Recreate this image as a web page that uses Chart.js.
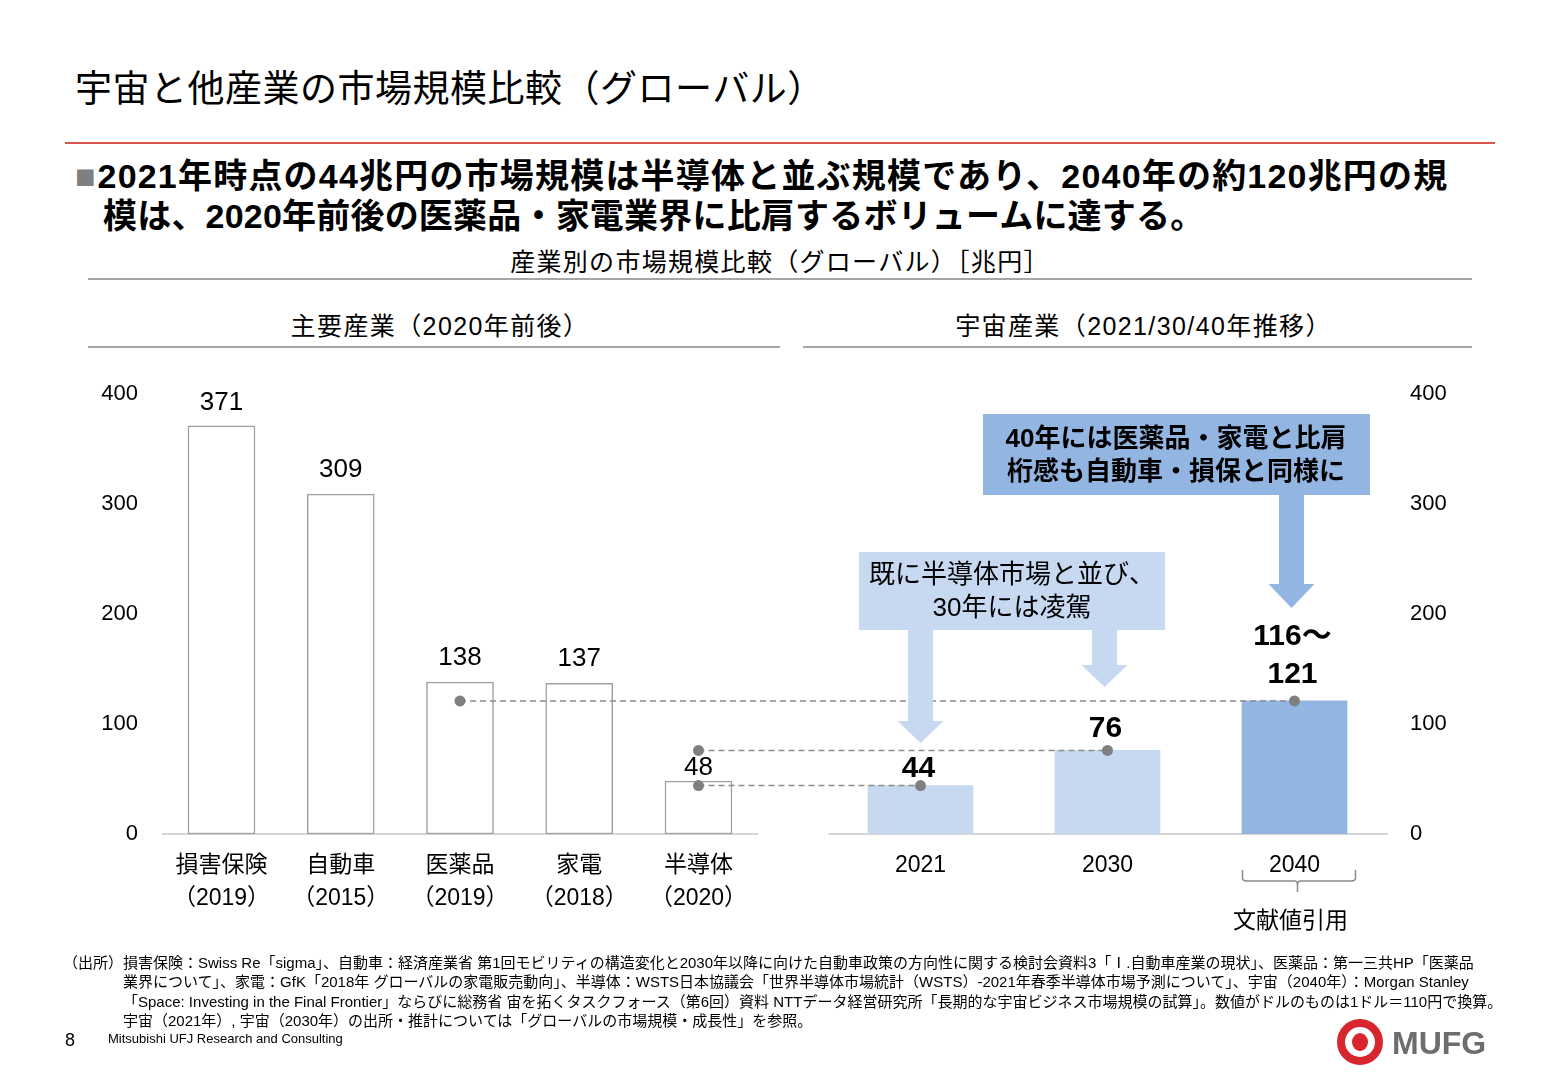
<!DOCTYPE html>
<html lang="ja"><head><meta charset="utf-8">
<script src="https://cdn.jsdelivr.net/npm/chart.js@4.4.0/dist/chart.umd.min.js"></script>
<style>
html,body{margin:0;padding:0;background:#fff;}
body{width:1560px;height:1080px;position:relative;overflow:hidden;font-family:"Liberation Sans","Noto Sans CJK JP",sans-serif;color:#000;}
#wrap{position:absolute;left:0;top:0;width:1560px;height:1080px;}
.t{position:absolute;white-space:nowrap;}
.rule{position:absolute;height:2px;background:#a6a6a6;}
</style></head>
<body>
<div class="t" style="left:75px;top:69px;font-size:37px;line-height:42px;letter-spacing:0.5px;">宇宙と他産業の市場規模比較（グローバル）</div>
<div style="position:absolute;left:65px;top:142px;width:1430px;height:2px;background:#d9534f;"></div>
<div class="t" style="left:75px;top:155px;font-size:34px;line-height:42px;font-weight:bold;letter-spacing:1.2px;"><span style="color:#7f7f7f;font-weight:normal;letter-spacing:0;margin-right:2px">■</span>2021年時点の44兆円の市場規模は半導体と並ぶ規模であり、2040年の約120兆円の規</div>
<div class="t" style="left:103px;top:195px;font-size:34px;line-height:42px;font-weight:bold;letter-spacing:0.2px;">模は、2020年前後の医薬品・家電業界に比肩するボリュームに達する。</div>
<div class="t" style="left:88px;width:1384px;top:247px;font-size:25px;line-height:30px;text-align:center;letter-spacing:1.3px;">産業別の市場規模比較（グローバル）［兆円］</div>
<div class="rule" style="left:88px;top:278px;width:1384px;"></div>
<div class="t" style="left:94px;width:692px;top:311px;font-size:25px;line-height:30px;text-align:center;letter-spacing:1.4px;">主要産業（2020年前後）</div>
<div class="t" style="left:809px;width:669px;top:311px;font-size:25px;line-height:30px;text-align:center;letter-spacing:1.4px;">宇宙産業（2021/30/40年推移）</div>
<div class="rule" style="left:88px;top:346px;width:692px;"></div>
<div class="rule" style="left:803px;top:346px;width:669px;"></div>
<div id="wrap"><canvas id="c" width="1560" height="1080"></canvas></div>
<div class="t" style="left:63px;top:953px;font-size:15px;line-height:19.3px;">（出所）</div>
<div class="t" style="left:123px;top:953px;font-size:15px;line-height:19.3px;">損害保険：Swiss Re「sigma」、自動車：経済産業省 第1回モビリティの構造変化と2030年以降に向けた自動車政策の方向性に関する検討会資料3「Ⅰ.自動車産業の現状」、医薬品：第一三共HP「医薬品<br>業界について」、家電：GfK「2018年 グローバルの家電販売動向」、半導体：WSTS日本協議会「世界半導体市場統計（WSTS）-2021年春季半導体市場予測について」、宇宙（2040年）：Morgan Stanley<br>「Space: Investing in the Final Frontier」ならびに総務省 宙を拓くタスクフォース（第6回）資料 NTTデータ経営研究所「長期的な宇宙ビジネス市場規模の試算」。数値がドルのものは1ドル＝110円で換算。<br>宇宙（2021年）, 宇宙（2030年）の出所・推計については「グローバルの市場規模・成長性」を参照。</div>
<div class="t" style="left:65px;top:1029px;font-size:18px;line-height:22px;">8</div>
<div class="t" style="left:108px;top:1031px;font-size:13px;line-height:16px;">Mitsubishi UFJ Research and Consulting</div>
<svg style="position:absolute;left:1330px;top:1015px;" width="170" height="56">
  <circle cx="30" cy="27" r="19" fill="none" stroke="#d7262e" stroke-width="8"/>
  <ellipse cx="30" cy="27" rx="8" ry="9" fill="#d7262e"/>
  <text x="62" y="39" font-family="Liberation Sans, sans-serif" font-weight="bold" font-size="32" fill="#6d6d6d">MUFG</text>
</svg>
<script>
// ---- data ----
const industryNames = ['損害保険', '自動車', '医薬品', '家電', '半導体'];
const industryYears = ['（2019）', '（2015）', '（2019）', '（2018）', '（2020）'];
const industryValues = [371, 309, 138, 137, 48];
const spaceYears = ['2021', '2030', '2040'];
const spaceValues = [44, 76, 121];
const spaceLabels = [['44'], ['76'], ['116～', '121']];
const yTickValues = [0, 100, 200, 300, 400];
// connectors: industry index -> space index (level = space value)
const connectorFrom = [2, 4, 4];
const connectorTo = [2, 1, 0];
const calloutA = ['既に半導体市場と並び、', '30年には凌駕'];
const calloutB = ['40年には医薬品・家電と比肩', '桁感も自動車・損保と同様に'];
const footnoteBracket = '文献値引用';

// ---- layout (slot positions on a linear x scale) ----
const X_MIN = -0.5157, X_MAX = 9.799;
const RIGHT_START = 5.862, RIGHT_STEP = 1.568;
const LEFT_BASE_END = 4.5, RIGHT_BASE_START = 5.09;
const leftPos = i => i;
const rightPos = j => RIGHT_START + j * RIGHT_STEP;
const leftLabelOffset = [23, 24, 24, 24, 13];
const rightLabelOffset = [17, 22, 26];
const spaceColors = ['#c6d9f1', '#c6d9f1', '#93b5e1'];

const FONT = '"Liberation Sans","Noto Sans CJK JP",sans-serif';
Chart.defaults.font.family = FONT;
Chart.defaults.color = '#000';

const tickPositions = industryNames.map((_, i) => leftPos(i)).concat(spaceYears.map((_, j) => rightPos(j)));
const tickLabels = industryNames.map((n, i) => [n, industryYears[i]]).concat(spaceYears);

const lineSets = connectorFrom.map((f, k) => ({
  type: 'line',
  data: [{x: leftPos(f), y: spaceValues[connectorTo[k]]}, {x: rightPos(connectorTo[k]), y: spaceValues[connectorTo[k]]}],
  borderColor: '#8c8c8c', borderWidth: 1.5, borderDash: [6, 4],
  pointRadius: 5.5, pointBackgroundColor: '#7f7f7f', pointBorderWidth: 0,
  fill: false, order: 0, xAxisID: 'x', yAxisID: 'y'
}));

function drawArrow(ctx, cx, top, headTop, tip, color) {
  const sw = 25, hw = 46;
  ctx.fillStyle = color;
  ctx.fillRect(cx - sw / 2, top, sw, headTop - top);
  ctx.beginPath();
  ctx.moveTo(cx - hw / 2, headTop);
  ctx.lineTo(cx + hw / 2, headTop);
  ctx.lineTo(cx, tip);
  ctx.closePath();
  ctx.fill();
}

const annot = {
  id: 'annot',
  beforeDatasetsDraw(chart) {
    const {ctx, chartArea, scales: {x, y}} = chart;
    const y0 = y.getPixelForValue(0);
    ctx.save();
    ctx.strokeStyle = '#c8c8c8'; ctx.lineWidth = 1.5;
    ctx.beginPath();
    ctx.moveTo(chartArea.left + 2, y0); ctx.lineTo(x.getPixelForValue(LEFT_BASE_END), y0);
    ctx.moveTo(x.getPixelForValue(RIGHT_BASE_START), y0); ctx.lineTo(chartArea.right - 2, y0);
    ctx.stroke();
    ctx.restore();
  },
  afterDatasetsDraw(chart) {
    const {ctx, scales: {x, y}} = chart;
    ctx.save();
    ctx.textAlign = 'center'; ctx.textBaseline = 'middle'; ctx.fillStyle = '#000';
    // left value labels
    ctx.font = '26px ' + FONT;
    industryValues.forEach((v, i) => {
      ctx.fillText(String(v), x.getPixelForValue(leftPos(i)), y.getPixelForValue(v) - leftLabelOffset[i]);
    });
    // right value labels
    ctx.font = 'bold 30px ' + FONT;
    spaceValues.forEach((v, j) => {
      const lines = spaceLabels[j];
      const px = x.getPixelForValue(rightPos(j)) - 2;
      lines.forEach((t, k) => {
        ctx.fillText(t, px, y.getPixelForValue(v) - rightLabelOffset[j] - (lines.length - 1 - k) * 38);
      });
    });
    // callout A
    const cA = '#c6d9f1', cB = '#93b5e1';
    ctx.fillStyle = cA;
    ctx.fillRect(859, 552, 306, 78);
    drawArrow(ctx, x.getPixelForValue(rightPos(0)), 630, 721, 743, cA);
    drawArrow(ctx, x.getPixelForValue(rightPos(1)) - 3, 630, 665, 687, cA);
    ctx.fillStyle = '#000'; ctx.font = '26px ' + FONT;
    ctx.fillText(calloutA[0], 1012, 576);
    ctx.fillText(calloutA[1], 1012, 609);
    // callout B
    ctx.fillStyle = cB;
    ctx.fillRect(983, 414, 387, 81);
    drawArrow(ctx, x.getPixelForValue(rightPos(2)) - 3, 495, 584, 608, cB);
    ctx.fillStyle = '#000'; ctx.font = 'bold 26px ' + FONT;
    ctx.fillText(calloutB[0], 1176, 440);
    ctx.fillText(calloutB[1], 1176, 473);
    // bracket under 2040
    const bx = x.getPixelForValue(rightPos(2));
    const L = bx - 52, R = bx + 61, top = 870, mid = 881, cxb = bx + 3;
    ctx.strokeStyle = '#8c8c8c'; ctx.lineWidth = 1.5;
    ctx.beginPath();
    ctx.moveTo(L, top); ctx.lineTo(L, mid - 3); ctx.quadraticCurveTo(L, mid, L + 4, mid);
    ctx.lineTo(cxb - 3, mid); ctx.quadraticCurveTo(cxb, mid, cxb, mid + 4); ctx.lineTo(cxb, 892);
    ctx.moveTo(cxb, mid + 4); ctx.quadraticCurveTo(cxb, mid, cxb + 3, mid);
    ctx.lineTo(R - 4, mid); ctx.quadraticCurveTo(R, mid, R, mid - 3); ctx.lineTo(R, top);
    ctx.stroke();
    ctx.fillStyle = '#000'; ctx.font = '23px ' + FONT;
    ctx.fillText(footnoteBracket, bx - 4, 922);
    ctx.restore();
  }
};

new Chart(document.getElementById('c'), {
  data: {
    datasets: [
      ...lineSets,
      {
        type: 'bar',
        data: industryValues.map((v, i) => ({x: leftPos(i), y: v})),
        backgroundColor: '#ffffff', borderColor: '#a0a0a0', borderWidth: 1.5, borderSkipped: false,
        grouped: false, barPercentage: 1, categoryPercentage: 1, maxBarThickness: 67,
        order: 1, xAxisID: 'x', yAxisID: 'y'
      },
      {
        type: 'bar',
        data: spaceValues.map((v, j) => ({x: rightPos(j), y: v})),
        backgroundColor: spaceColors, borderWidth: 0,
        grouped: false, barPercentage: 1, categoryPercentage: 1, maxBarThickness: 105,
        order: 1, xAxisID: 'x', yAxisID: 'y'
      }
    ]
  },
  options: {
    responsive: false, animation: false,
    layout: {padding: {left: 80, right: 90, top: 394, bottom: 126}},
    plugins: {legend: {display: false}, tooltip: {enabled: false}},
    scales: {
      x: {
        type: 'linear', min: X_MIN, max: X_MAX, offset: false,
        grid: {display: false, drawTicks: false}, border: {display: false},
        afterBuildTicks: s => { s.ticks = tickPositions.map(v => ({value: v})); },
        afterFit: s => { s.height = 120; },
        ticks: {
          autoSkip: false, maxRotation: 0, minRotation: 0, padding: 15,
          font: {size: 23, lineHeight: 33 / 23}, color: '#000',
          callback: (v, i) => tickLabels[i]
        }
      },
      y: {
        type: 'linear', position: 'left', min: 0, max: 400,
        grid: {display: false, drawTicks: false}, border: {display: false},
        afterBuildTicks: s => { s.ticks = yTickValues.map(v => ({value: v})); },
        afterFit: s => { s.width = 80; },
        ticks: {padding: 22, font: {size: 22}, color: '#000'}
      },
      y2: {
        type: 'linear', position: 'right', min: 0, max: 400,
        grid: {display: false, drawTicks: false}, border: {display: false},
        afterBuildTicks: s => { s.ticks = yTickValues.map(v => ({value: v})); },
        afterFit: s => { s.width = 80; },
        ticks: {padding: 20, font: {size: 22}, color: '#000'}
      }
    }
  },
  plugins: [annot]
});
</script>
</body></html>
